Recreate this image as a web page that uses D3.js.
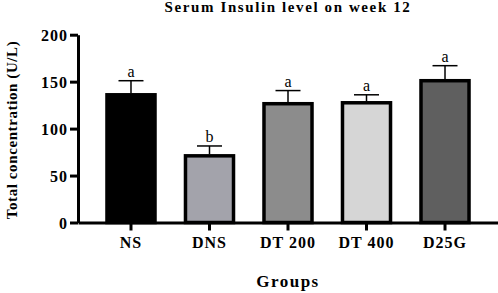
<!DOCTYPE html>
<html>
<head>
<meta charset="utf-8">
<script src="https://cdn.jsdelivr.net/npm/d3@7"></script>
<style>
  body { margin: 0; background: #fff; }
  svg { display: block; }
  svg text { font-family: "Liberation Serif", "Times New Roman", serif; }
</style>
</head>
<body>
<div id="chart-area"></div>
<script>
// data
let groups = ["NS", "DNS", "DT 200", "DT 400", "D25G"];
let means = [136, 71, 126.5, 127.5, 151];
let errors = [15, 10.5, 14, 8.5, 16];
let letters = ["a", "b", "a", "a", "a"];
let fills = ["#000000", "#a3a3ab", "#8c8c8c", "#d6d6d6", "#5f5f5f"];
let yTicks = [0, 50, 100, 150, 200];

let width = 498, height = 293;

let svg = d3.select("#chart-area").append("svg")
    .attr("width", width)
    .attr("height", height);

let x = d3.scaleBand()
    .domain(groups)
    .range([78, 498])
    .paddingInner(0.35)
    .paddingOuter(0.35);

let y = d3.scaleLinear()
    .domain([0, 200])
    .range([222.5, 34.7]);

// bars
svg.selectAll("rect.bar")
    .data(groups)
    .enter().append("rect")
    .attr("class", "bar")
    .attr("x", (d, i) => x(d) + 1.5)
    .attr("width", x.bandwidth() - 3)
    .attr("y", (d, i) => y(means[i]))
    .attr("height", (d, i) => y(0) - y(means[i]))
    .attr("fill", (d, i) => fills[i])
    .attr("stroke", "#000")
    .attr("stroke-width", 3.5);

// error bars (upper only)
let err = svg.selectAll("g.err")
    .data(groups)
    .enter().append("g")
    .attr("class", "err");

err.append("line")
    .attr("x1", d => x(d) + x.bandwidth() / 2)
    .attr("x2", d => x(d) + x.bandwidth() / 2)
    .attr("y1", (d, i) => y(means[i]) - 1.5)
    .attr("y2", (d, i) => y(means[i] + errors[i]))
    .attr("stroke", "#000")
    .attr("stroke-width", 1.5);

err.append("line")
    .attr("x1", d => x(d) + x.bandwidth() / 2 - 12.5)
    .attr("x2", d => x(d) + x.bandwidth() / 2 + 12.5)
    .attr("y1", (d, i) => y(means[i] + errors[i]))
    .attr("y2", (d, i) => y(means[i] + errors[i]))
    .attr("stroke", "#000")
    .attr("stroke-width", 1.5);

err.append("text")
    .attr("x", d => x(d) + x.bandwidth() / 2)
    .attr("y", (d, i) => y(means[i] + errors[i]) - 4)
    .attr("text-anchor", "middle")
    .style("font-size", "16px")
    .text((d, i) => letters[i]);

// axes
let yAxis = d3.axisLeft(y).tickValues(yTicks).tickSize(8).tickSizeOuter(0);
let xAxis = d3.axisBottom(x).tickSize(8).tickSizeOuter(0);

let yg = svg.append("g")
    .attr("transform", "translate(78,0)")
    .call(yAxis);

let xg = svg.append("g")
    .attr("transform", "translate(0," + y(0) + ")")
    .call(xAxis);

[yg, xg].forEach(g => {
    g.attr("font-family", "'Liberation Serif', 'Times New Roman', serif");
    g.select(".domain").attr("stroke", "#000").attr("stroke-width", 3);
    g.selectAll(".tick line").attr("stroke", "#000").attr("stroke-width", 3);
    g.selectAll(".tick text")
        .attr("fill", "#000")
        .style("font-weight", "bold")
        .style("font-size", "16px")
        .style("letter-spacing", "1px");
});
yg.selectAll(".tick text").attr("x", -10).attr("dy", "0.35em");
xg.selectAll(".tick text").attr("y", 14);

// titles
svg.append("text")
    .attr("x", 288)
    .attr("y", 12)
    .attr("text-anchor", "middle")
    .style("font-weight", "bold")
    .style("font-size", "15px")
    .style("letter-spacing", "1.6px")
    .text("Serum Insulin level on week 12");

svg.append("text")
    .attr("x", 288)
    .attr("y", 287)
    .attr("text-anchor", "middle")
    .style("font-weight", "bold")
    .style("font-size", "17px")
    .style("letter-spacing", "1.5px")
    .text("Groups");

svg.append("text")
    .attr("transform", "translate(17,130) rotate(-90)")
    .attr("text-anchor", "middle")
    .style("font-weight", "bold")
    .style("font-size", "15px")
    .style("letter-spacing", "0.6px")
    .text("Total concentration (U/L)");
</script>
</body>
</html>
